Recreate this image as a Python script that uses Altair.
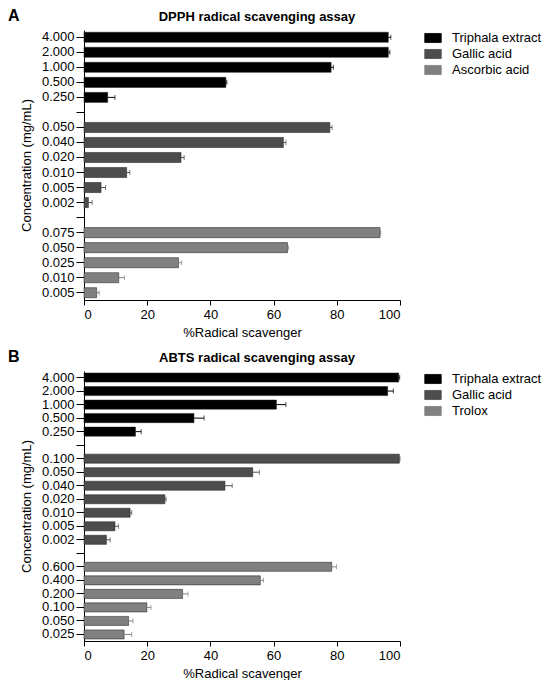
import altair as alt
import pandas as pd

# ---------------- Panel A: DPPH ----------------
a_tri_conc = ["4.000", "2.000", "1.000", "0.500", "0.250"]
a_tri_val = [96.3, 96.3, 78.2, 44.9, 7.5]
a_tri_err = [0.8, 0.5, 0.7, 0.3, 2.3]
a_gal_conc = ["0.050", "0.040", "0.020", "0.010", "0.005", "0.002"]
a_gal_val = [77.8, 63.1, 30.7, 13.5, 5.4, 1.4]
a_gal_err = [0.7, 0.8, 1.0, 1.0, 1.4, 1.2]
a_ref_conc = ["0.075", "0.050", "0.025", "0.010", "0.005"]
a_ref_val = [93.7, 64.4, 29.9, 11.0, 4.0]
a_ref_err = [0.2, 0.3, 1.0, 1.8, 0.8]
a_names = ["Triphala extract", "Gallic acid", "Ascorbic acid"]

# ---------------- Panel B: ABTS ----------------
b_tri_conc = ["4.000", "2.000", "1.000", "0.500", "0.250"]
b_tri_val = [99.6, 96.1, 60.9, 34.8, 16.3]
b_tri_err = [0.3, 1.8, 3.0, 3.2, 1.8]
b_gal_conc = ["0.100", "0.050", "0.040", "0.020", "0.010", "0.005", "0.002"]
b_gal_val = [99.8, 53.4, 44.6, 25.6, 14.6, 9.8, 7.1]
b_gal_err = [0.2, 2.1, 2.3, 0.4, 0.5, 1.1, 1.2]
b_ref_conc = ["0.600", "0.400", "0.200", "0.100", "0.050", "0.025"]
b_ref_val = [78.4, 55.8, 31.2, 19.9, 14.1, 12.7]
b_ref_err = [1.5, 1.0, 1.7, 1.3, 1.4, 2.4]
b_names = ["Triphala extract", "Gallic acid", "Trolox"]

colors = ["#000000", "#4d4d4d", "#808080"]
x_ticks = [0, 20, 40, 60, 80, 100]


def build(groups):
    rows, order = [], []
    for gi, (name, concs, vals, errs) in enumerate(groups):
        if gi > 0:
            order.append(f"|gap{gi}")
        for c, v, e in zip(concs, vals, errs):
            k = f"{c}|{gi}"
            order.append(k)
            rows.append(dict(key=k, series=name, value=v, hi=v + e))
    return pd.DataFrame(rows), order


def panel(groups, names, title, letter):
    df, order = build(groups)
    base = alt.Chart(df)
    yscale = alt.Scale(domain=order, paddingInner=0.33, paddingOuter=0.15)
    y = alt.Y(
        "key:N",
        scale=yscale,
        axis=alt.Axis(
            title="Concentration (mg/mL)",
            labelExpr="split(datum.value, '|')[0]",
            tickSize=8,
            labelPadding=2,
            titlePadding=8,
        ),
    )
    x = alt.X(
        "value:Q",
        scale=alt.Scale(domain=[0, 100]),
        axis=alt.Axis(
            title="%Radical scavenger",
            values=x_ticks,
            tickSize=5,
            labelPadding=3,
            titlePadding=5,
        ),
    )
    cscale = alt.Scale(domain=names, range=colors)
    color = alt.Color(
        "series:N",
        scale=cscale,
        legend=alt.Legend(
            title=None,
            orient="none",
            legendX=340,
            legendY=-1,
            labelFontSize=13,
            symbolType="M-1,-0.55L1,-0.55L1,0.55L-1,0.55Z",
            symbolSize=272,
            symbolStrokeColor="#000000",
            symbolStrokeWidth=0.8,
            labelOffset=10,
            rowPadding=0,
        ),
    )
    bars = base.mark_bar(stroke="#1a1a1a", strokeWidth=0.5).encode(
        x=x, y=y, color=color
    )
    err = base.mark_rule(strokeWidth=1).encode(
        x="value:Q", x2="hi:Q", y="key:N",
        color=alt.Color("series:N", scale=cscale, legend=None),
    )
    cap = base.mark_tick(thickness=1, size=5, orient="vertical").encode(
        x="hi:Q", y="key:N",
        color=alt.Color("series:N", scale=cscale, legend=None),
    )
    lab = alt.Chart(pd.DataFrame({"t": [letter]})).mark_text(
        align="left", baseline="top", fontSize=16, fontWeight="bold", color="black"
    ).encode(text="t:N", x=alt.value(-76), y=alt.value(-22))
    ttl = alt.Chart(pd.DataFrame({"t": [title]})).mark_text(
        align="center", baseline="middle", fontSize=13, fontWeight="bold", color="black"
    ).encode(text="t:N", x=alt.value(173), y=alt.value(-13))
    return alt.layer(bars, err, cap, lab, ttl).properties(width=316, height=270)


pa = panel(
    [
        (a_names[0], a_tri_conc, a_tri_val, a_tri_err),
        (a_names[1], a_gal_conc, a_gal_val, a_gal_err),
        (a_names[2], a_ref_conc, a_ref_val, a_ref_err),
    ],
    a_names, "DPPH radical scavenging assay", "A",
)
pb = panel(
    [
        (b_names[0], b_tri_conc, b_tri_val, b_tri_err),
        (b_names[1], b_gal_conc, b_gal_val, b_gal_err),
        (b_names[2], b_ref_conc, b_ref_val, b_ref_err),
    ],
    b_names, "ABTS radical scavenging assay", "B",
)

chart = (
    alt.vconcat(pa, pb, spacing=10)
    .resolve_scale(color="independent", y="independent")
    .properties(padding=0)
    .configure(font="Liberation Sans")
    .configure_view(stroke=None)
    .configure_axis(
        grid=False,
        domainColor="black",
        tickColor="black",
        labelColor="black",
        titleColor="black",
        labelFontSize=13,
        titleFontSize=13,
        titleFontWeight="normal",
        labelFont="Liberation Sans",
        titleFont="Liberation Sans",
    )
    .configure_legend(labelColor="black", labelFont="Liberation Sans")
)

chart.save("out.html", embed_options={"renderer": "svg", "actions": False})
